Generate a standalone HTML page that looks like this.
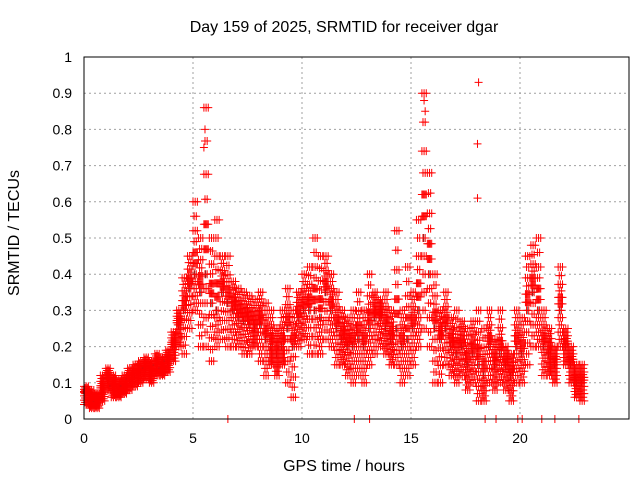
<!DOCTYPE html>
<html><head><meta charset="utf-8"><style>
body{margin:0;background:#fff;}
svg text{font-family:"Liberation Sans",sans-serif;font-size:14px;fill:#000;}
svg text.title{font-size:16px;}
</style></head><body>
<svg id="chart" width="640" height="480" xmlns="http://www.w3.org/2000/svg">
<rect width="640" height="480" fill="#fff"/>
<g id="grid"></g>
<g id="ticks"></g>
<g id="marks"></g>
<rect x="84" y="57" width="545" height="362" fill="none" stroke="#000" stroke-width="1"/>
<text class="title" x="344" y="32" text-anchor="middle">Day 159 of 2025, SRMTID for receiver dgar</text>
<text class="title" x="344" y="471" text-anchor="middle">GPS time / hours</text>
<text class="title" transform="translate(19,233) rotate(-90)" text-anchor="middle">SRMTID / TECUs</text>
</svg>
<script>
const times=[0,0.25,0.5,0.75,1,1.25,1.5,1.75,2,2.25,2.5,2.75,3,3.25,3.5,3.75,4,4.25,4.5,4.75,5,5.25,5.5,5.75,6,6.25,6.5,6.75,7,7.25,7.5,7.75,8,8.25,8.5,8.75,9,9.25,9.5,9.75,10,10.25,10.5,10.75,11,11.25,11.5,11.75,12,12.25,12.5,12.75,13,13.25,13.5,13.75,14,14.25,14.5,14.75,15,15.25,15.5,15.75,16,16.25,16.5,16.75,17,17.25,17.5,17.75,18,18.25,18.5,18.75,19,19.25,19.5,19.75,20,20.25,20.5,20.75,21,21.25,21.5,21.75,22,22.25,22.5,22.75];
const midVals=[.07,.05,.05,.08,.11,.09,.08,.09,.11,.12,.13,.14,.13,.15,.14,.16,.2,.26,.3,.36,.4,.35,.4,.32,.3,.35,.32,.3,.28,.27,.26,.25,.26,.22,.2,.18,.2,.25,.2,.28,.3,.3,.3,.28,.35,.3,.25,.22,.2,.2,.22,.2,.25,.28,.28,.25,.22,.25,.2,.22,.25,.3,.5,.4,.25,.22,.25,.2,.18,.2,.15,.18,.15,.12,.2,.15,.18,.15,.12,.2,.18,.3,.35,.3,.2,.18,.15,.3,.2,.15,.1,.1];
const loVals=[.04,.03,.03,.05,.08,.06,.06,.07,.08,.09,.1,.11,.1,.12,.12,.13,.16,.2,.18,.25,.3,.2,.2,.16,.2,.22,.2,.2,.2,.18,.18,.2,.16,.12,.15,.12,.15,.1,.06,.2,.22,.18,.18,.18,.22,.2,.15,.15,.12,.1,.12,.1,.15,.18,.2,.18,.15,.15,.1,.12,.15,.2,.25,.2,.1,.1,.15,.12,.1,.12,.08,.1,.05,.05,.1,.08,.1,.08,.05,.1,.1,.15,.2,.2,.12,.12,.1,.2,.15,.1,.06,.05];
const hiVals=[.09,.08,.07,.12,.14,.12,.11,.12,.14,.15,.16,.17,.16,.18,.17,.19,.24,.3,.39,.45,.6,.5,.86,.5,.55,.45,.45,.38,.36,.35,.34,.33,.35,.32,.3,.25,.3,.36,.3,.35,.4,.42,.5,.45,.45,.4,.35,.3,.28,.3,.35,.3,.4,.35,.33,.35,.3,.52,.3,.42,.35,.55,.9,.68,.4,.3,.35,.28,.3,.27,.25,.27,.3,.25,.3,.22,.3,.2,.18,.3,.28,.45,.48,.5,.3,.25,.2,.42,.25,.2,.15,.15];
const extraT=[6.6,12.4,13.1,18.4,18.9,19.9,20.1,21.0,21.6,22.7,18.1,18.05,18.05,5.55,5.5,15.6,15.65];
const extraV=[0,0,0,0,0,0,0,0,0,0,.93,.76,.61,.8,.75,.88,.85];
const xTicks=[0,5,10,15,20];
const yTicks=[0,0.1,0.2,0.3,0.4,0.5,0.6,0.7,0.8,0.9,1];
const yTickLabels=["0","0.1","0.2","0.3","0.4","0.5","0.6","0.7","0.8","0.9","1"];
const NS="http://www.w3.org/2000/svg";
const X=t=>84+t*(545/25), Y=v=>419-v*362;
const grid=document.getElementById('grid'),ticks=document.getElementById('ticks'),marks=document.getElementById('marks');
function el(tag,attrs,parent){const e=document.createElementNS(NS,tag);for(const k in attrs)e.setAttribute(k,attrs[k]);parent.appendChild(e);return e;}
yTicks.forEach((v,i)=>{
  if(i>0&&i<yTicks.length-1){const g=el('line',{x1:84,x2:629,y1:Y(v),y2:Y(v),stroke:'#a0a0a0','stroke-dasharray':'2,3'},grid);
  
  }
  const t=el('text',{x:72,y:Y(v)+5,'text-anchor':'end'},ticks);t.textContent=yTickLabels[i];
  
  
});
xTicks.forEach(v=>{
  if(v>0){const g=el('line',{x1:X(v),x2:X(v),y1:57,y2:419,stroke:'#a0a0a0','stroke-dasharray':'2,3'},grid);
  
  }
  const t=el('text',{x:X(v),y:443,'text-anchor':'middle'},ticks);t.textContent=v;
  
  
});
function plus(t,v,color){
  const x=X(t),y=Y(v);
  const p=el('path',{d:`M${x-4},${y}H${x+4}M${x},${y-4}V${y+4}`,stroke:color,'stroke-width':1,fill:'none'},marks);
  
  
}
// fractions of the lo->mid and mid->hi ranges used to spread marks
const lowFr=[0,0.2,0.4,0.6,0.8,1];
const highFr=[0.15,0.3,0.45,0.6,0.8,1];
const offs=[0,0.05,0.1,0.15,0.2];
times.forEach((t,i)=>{
  const lo=loVals[i],m=midVals[i],hi=hiVals[i];
  plus(t+0.08,m,'#404040');
  offs.forEach((o,k)=>{
    lowFr.forEach((f,j)=>{ if((j+k)%2===0) plus(t+o,lo+(m-lo)*f,'#ff0000'); });
    highFr.forEach((f,j)=>{ if((j+k)%2===1 || j<2) plus(t+o,m+(hi-m)*f,'#ff0000'); });
  });
});
extraT.forEach((t,i)=>plus(t,extraV[i],'#ff0000'));
</script>
</body></html>
